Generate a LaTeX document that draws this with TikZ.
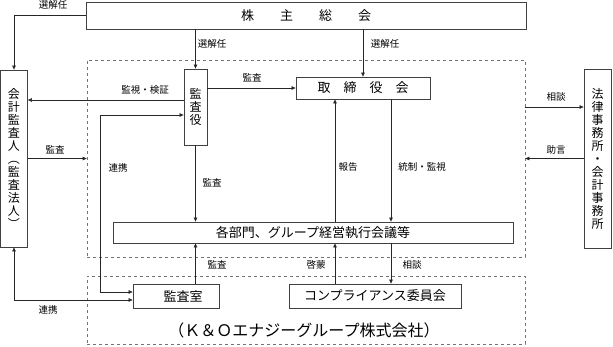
\documentclass[tikz,border=0pt]{standalone}
\usepackage{fontspec}
\setmainfont{Noto Sans CJK JP}
\usetikzlibrary{arrows.meta,positioning,calc}

\begin{document}
\begin{tikzpicture}[x=1pt, y=-1pt,
    box/.style={draw=black!75, line width=0.8pt, inner sep=0pt,
                font=\fontsize{13}{13}\selectfont},
    vbox/.style={box, align=center, font=\fontsize{12}{13}\selectfont},
    grp/.style={draw=black!55, dashed, line width=0.6pt, inner sep=0pt},
    lbl/.style={font=\fontsize{9.5}{10}\selectfont, inner sep=1pt},
    arr/.style={-{Triangle[length=4pt,width=3.5pt]}, line width=0.6pt, black!85},
    arrs/.style={{Triangle[length=4pt,width=3.5pt]}-{Triangle[length=4pt,width=3.5pt]},
                 line width=0.6pt, black!85},
]
\useasboundingbox (0,0) rectangle (613,346);

% group frames
\node[grp, minimum width=438pt, minimum height=197pt] (upper) at (306,158.5) {};
\node[grp, minimum width=438pt, minimum height=68pt] (lower) at (306,310) {};

% boxes
\node[box, minimum width=440pt, minimum height=27pt] (soukai) at (306,15.5) {株\qquad 主\qquad 総\qquad 会};
\node[vbox, minimum width=27pt, minimum height=177pt] (kaikei) at (14,158.5)
    {会\\計\\監\\査\\人\\︵\\監\\査\\法\\人\\︶};
\node[vbox, minimum width=23pt, minimum height=76pt] (kansayaku) at (195.5,107) {監\\査\\役};
\node[box, minimum width=134pt, minimum height=22pt] (torishimari) at (363,88) {取\quad 締\quad 役\quad 会};
\node[vbox, minimum width=27pt, minimum height=179pt] (houritsu) at (597.5,158.5)
    {法\\律\\事\\務\\所\\・\\会\\計\\事\\務\\所};
\node[box, minimum width=400pt, minimum height=21pt] (bumon) at (313,232.5) {各部門、グループ経営執行会議等};
\node[box, minimum width=86pt, minimum height=24pt] (kansashitsu) at (176,296) {\hspace*{14pt}監査室};
\node[box, minimum width=172pt, minimum height=24pt] (compliance) at (375,296) {コンプライアンス委員会};
\node[font=\fontsize{16}{16}\selectfont] (company) at (304,330) {（Ｋ＆Ｏエナジーグループ株式会社）};

% labels
\node[lbl] (lSenninA) at (53,5) {選解任};
\node[lbl] (lSenninB) at (212,44) {選解任};
\node[lbl] (lSenninC) at (385,44) {選解任};
\node[lbl] (lKenshou) at (145,90) {監視・検証};
\node[lbl] (lKansaA) at (252,78) {監査};
\node[lbl] (lKansaB) at (55,150) {監査};
\node[lbl] (lRenkeiA) at (118,168) {連携};
\node[lbl] (lKansaC) at (212,183) {監査};
\node[lbl] (lHoukoku) at (348,167) {報告};
\node[lbl] (lTousei) at (422,167) {統制・監視};
\node[lbl] (lSoudanA) at (556,97) {相談};
\node[lbl] (lJogen) at (556,150) {助言};
\node[lbl] (lKansaD) at (217,265) {監査};
\node[lbl] (lKeimou) at (316,265) {啓蒙};
\node[lbl] (lSoudanB) at (412,265) {相談};
\node[lbl] (lRenkeiB) at (48,310) {連携};

% helper points
\coordinate (kenshou) at ([yshift=7pt]kansayaku.west);
\coordinate (renkei) at (100,115);
\coordinate (hokoku) at ([xshift=-28pt]torishimari.south);
\coordinate (tousei) at ([xshift=28pt]torishimari.south);

% connectors
\draw[arr] (soukai.west) -| (kaikei.north);
\draw[arr] (soukai.south -| kansayaku) -- (kansayaku.north);
\draw[arr] (soukai.south -| torishimari) -- (torishimari.north);
\draw[arr] (kenshou) -- (kenshou -| kaikei.east);
\draw[arr] (kansayaku.east |- torishimari) -- (torishimari.west);
\draw[arr] (kaikei.east) -- (upper.west);
\draw[arrs] (kansayaku.west |- renkei) -- (renkei) |- ([yshift=4pt]kansashitsu.west);
\draw[arrs] (kaikei.south) |- ([yshift=-4pt]kansashitsu.west);
\draw[arr] (kansayaku.south) -- (bumon.north -| kansayaku);
\draw[arr] (hokoku |- bumon.north) -- (hokoku);
\draw[arr] (tousei) -- (tousei |- bumon.north);
\draw[arr] (kansashitsu.north -| kansayaku) -- (bumon.south -| kansayaku);
\draw[arr] (compliance.north -| hokoku) -- (bumon.south -| hokoku);
\draw[arr] (bumon.south -| tousei) -- (compliance.north -| tousei);
\draw[arr] (upper.east |- kansayaku) -- (houritsu.west |- kansayaku);
\draw[arr] (houritsu.west) -- (upper.east);
\end{tikzpicture}
\end{document}
